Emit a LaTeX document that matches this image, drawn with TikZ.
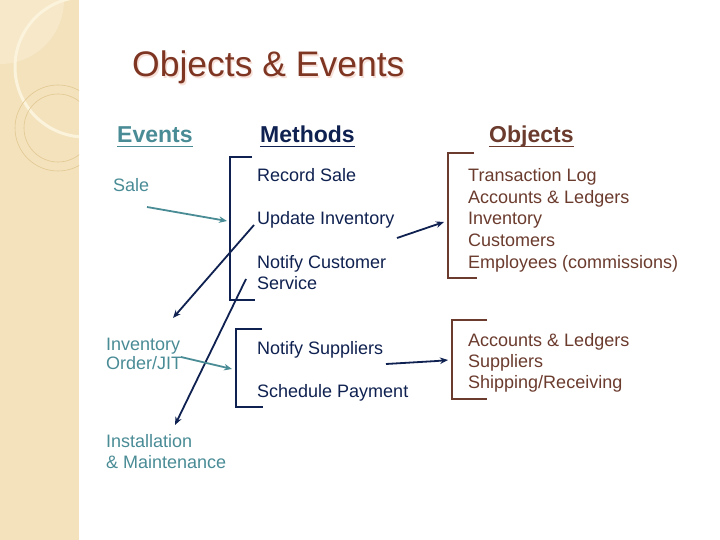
\documentclass[tikz,border=0pt]{standalone}
\usepackage{fontspec}
\setmainfont{Liberation Sans}
\usetikzlibrary{arrows.meta}
\definecolor{tealc}{HTML}{4A8C96}
\definecolor{navyc}{HTML}{0F2150}
\definecolor{brownc}{HTML}{6B3B2E}
\definecolor{titlec}{HTML}{7E3522}
\definecolor{shadowc}{HTML}{F6E0D8}
\definecolor{stripc}{HTML}{F3E2BC}
\definecolor{stripl}{HTML}{F6E8C9}
\definecolor{arcc}{HTML}{FBF3DC}
\definecolor{ringc}{HTML}{E2C893}
\begin{document}
\begin{tikzpicture}[x=1pt,y=-1pt,
  txt/.style={anchor=base west,inner sep=0pt,font=\fontsize{18}{21}\selectfont},
  head/.style={anchor=base west,inner sep=0pt,font=\fontsize{23}{27}\selectfont\bfseries},
  uline/.style={line width=1.5pt},
  bracket/.style={line width=2pt},
  conn/.style={line width=1.8pt,-{Stealth[length=8pt,width=6.5pt]}}
]
\useasboundingbox (0,0) rectangle (720,540);
% background strip
\fill[white] (0,0) rectangle (720,540);
\begin{scope}
  \clip (0,0) rectangle (79,540);
  \fill[stripc] (0,0) rectangle (79,540);
  \fill[stripl] (0,0) circle[radius=64];
  \draw[arcc,line width=3pt] (85,67) circle[radius=70];
  \draw[ringc,line width=0.6pt] (58,128) circle[radius=43];
  \draw[ringc,line width=0.6pt] (58,128) circle[radius=34];
\end{scope}
% title
\node[anchor=base west,inner sep=0pt,font=\fontsize{35.5}{40}\selectfont,text=shadowc] at (133.5,78.5) {Objects \& Events};
\node[anchor=base west,inner sep=0pt,font=\fontsize{35.5}{40}\selectfont,text=titlec] (title) at (132,77) {Objects \& Events};
% headings
\node[head,text=tealc] (hev) at (117,143) {Events};
\node[head,text=navyc] (hme) at (260,143) {Methods};
\node[head,text=brownc] (hob) at (489,143) {Objects};
\draw[uline,tealc] ([yshift=-3.5pt]hev.base west) -- ([yshift=-3.5pt]hev.base east);
\draw[uline,navyc] ([yshift=-3.5pt]hme.base west) -- ([yshift=-3.5pt]hme.base east);
\draw[uline,brownc] ([yshift=-3.5pt]hob.base west) -- ([yshift=-3.5pt]hob.base east);
% events
\node[txt,text=tealc] (sale) at (113,192) {Sale};
\node[txt,text=tealc] (inv1) at (106,350) {Inventory};
\node[txt,text=tealc] (inv2) at (106,369) {Order/JIT};
\node[txt,text=tealc] (ins1) at (106,447) {Installation};
\node[txt,text=tealc] (ins2) at (106,468) {\& Maintenance};
% methods
\node[txt,text=navyc] (rec) at (257,182) {Record Sale};
\node[txt,text=navyc] (upd) at (257,225) {Update Inventory};
\node[txt,text=navyc] (ncs1) at (257,268) {Notify Customer};
\node[txt,text=navyc] (ncs2) at (257,289) {Service};
\node[txt,text=navyc] (nsu) at (257,354) {Notify Suppliers};
\node[txt,text=navyc] (sch) at (257,397) {Schedule Payment};
% objects
\node[txt,text=brownc] (o1) at (468,182) {Transaction Log};
\node[txt,text=brownc] (o2) at (468,203.5) {Accounts \& Ledgers};
\node[txt,text=brownc] (o3) at (468,225) {Inventory};
\node[txt,text=brownc] (o4) at (468,246.5) {Customers};
\node[txt,text=brownc] (o5) at (468,268) {Employees (commissions)};
\node[txt,text=brownc] (p1) at (468,346) {Accounts \& Ledgers};
\node[txt,text=brownc] (p2) at (468,367) {Suppliers};
\node[txt,text=brownc] (p3) at (468,388) {Shipping/Receiving};
% brackets
\draw[bracket,navyc] (252,157) -- (230,157) -- (230,300) -- (255,300);
\draw[bracket,navyc] (262,329) -- (236,329) -- (236,407) -- (263,407);
\draw[bracket,brownc] (474,153) -- (448,153) -- (448,278) -- (477,278);
\draw[bracket,brownc] (487,320) -- (452,320) -- (452,399) -- (487,399);
% connector endpoints
\coordinate (a1s) at (147,207); \coordinate (a1e) at (227,221);
\coordinate (a2s) at (254,225); \coordinate (a2e) at (173,318);
\coordinate (a3s) at (246,279); \coordinate (a3e) at (175,425);
\coordinate (a4s) at (181,357); \coordinate (a4e) at (232,369);
\coordinate (a5s) at (397,238); \coordinate (a5e) at (444,222);
\coordinate (a6s) at (386,364); \coordinate (a6m) at (437,361); \coordinate (a6e) at (448,360);
% connectors
\draw[conn,tealc] (a1s) -- (a1e);
\draw[conn,navyc] (a2s) -- (a2e);
\draw[conn,navyc] (a3s) -- (a3e);
\draw[conn,tealc] (a4s) -- (a4e);
\draw[conn,navyc] (a5s) -- (a5e);
\draw[conn,navyc] (a6s) -- (a6m) -- (a6e);
\end{tikzpicture}
\end{document}
